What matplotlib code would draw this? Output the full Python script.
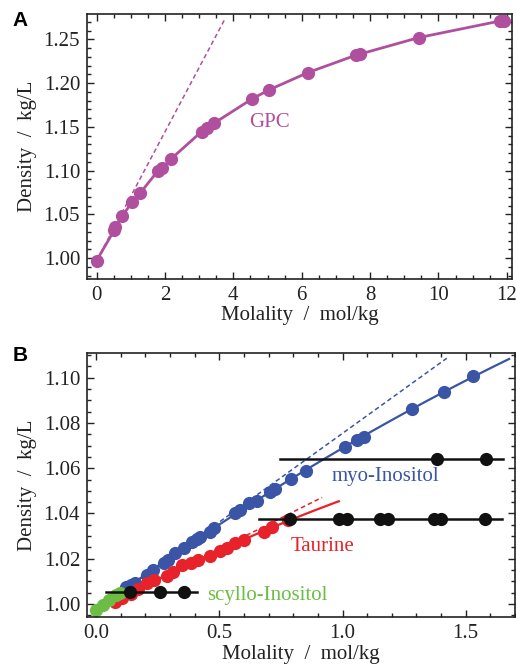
import numpy as np
import matplotlib
matplotlib.use("Agg")
import matplotlib.pyplot as plt
from matplotlib.ticker import MultipleLocator

# ---------------- Data ----------------
# Panel A: GPC
gpc_m = [0.0, 0.52, 0.55, 0.75, 1.04, 1.27, 1.80, 1.92, 2.17, 3.07, 3.22, 3.43,
         4.55, 5.03, 6.18, 7.59, 7.69, 9.42, 11.80, 11.92]
gpc_d = [0.997, 1.032, 1.035, 1.048, 1.064, 1.074, 1.100, 1.103, 1.113, 1.1445,
         1.149, 1.154, 1.182, 1.192, 1.212, 1.232, 1.233, 1.252, 1.271, 1.271]
gpc_slope_m = [0.0, 3.75]
gpc_slope_d = [0.997, 1.273]

# Panel B: myo-Inositol
myo_m = [0.12, 0.14, 0.159, 0.206, 0.23, 0.274, 0.29, 0.321, 0.355, 0.389, 0.41,
         0.423, 0.463, 0.48, 0.565, 0.582, 0.619, 0.653, 0.707, 0.724, 0.791,
         0.85, 1.012, 1.06, 1.087, 1.283, 1.412, 1.531]
myo_d = [1.0075, 1.0085, 1.0094, 1.0128, 1.015, 1.018, 1.0195, 1.0224, 1.0246,
         1.0275, 1.0285, 1.0297, 1.032, 1.0334, 1.0404, 1.0416, 1.0445, 1.0455,
         1.0496, 1.0506, 1.0551, 1.0589, 1.0695, 1.0725, 1.074, 1.086, 1.0938,
         1.1008]
myo_fit_range = [0.10, 1.676]
myo_slope_m = [0.0, 1.423]
myo_slope_d = [0.997, 1.1086]

# Taurine
tau_m = [0.077, 0.107, 0.14, 0.17, 0.206, 0.233, 0.287, 0.31, 0.35, 0.385,
         0.412, 0.461, 0.504, 0.531, 0.565, 0.599, 0.68, 0.714, 0.778]
tau_d = [1.001, 1.0025, 1.0045, 1.0068, 1.0091, 1.0106, 1.0124, 1.014, 1.0172,
         1.018, 1.0195, 1.0212, 1.0233, 1.0248, 1.0269, 1.0283, 1.032, 1.034,
         1.0371]
tau_fit_range = [0.07, 0.985]
tau_slope_m = [0.0, 0.917]
tau_slope_d = [0.997, 1.0471]

# scyllo-Inositol
scy_m = [0.0, 0.027, 0.054, 0.081, 0.095]
scy_d = [0.9973, 0.9996, 1.0018, 1.004, 1.005]

# Solubility limits (horizontal lines + points)
lim_scy_d = 1.0052
lim_scy_range = [0.041, 0.409]
lim_scy_m = [0.138, 0.26, 0.355]
lim_tau_d = 1.0376
lim_tau_range = [0.66, 1.649]
lim_tau_m = [0.788, 0.985, 1.019, 1.154, 1.184, 1.371, 1.398, 1.577]
lim_myo_d = 1.0642
lim_myo_range = [0.745, 1.652]
lim_myo_m = [1.385, 1.581]

# ---------------- Style ----------------
SERIF = ["Liberation Serif", "DejaVu Serif"]
plt.rcParams["font.family"] = SERIF
FS = 15

C_GPC = "#b04f9e"
C_MYO = "#3a55a6"
C_TAU = "#e8222a"
C_SCY = "#6cbd45"

fig = plt.figure(figsize=(5.16, 6.69), dpi=100)
axA = fig.add_axes([87/516, 1-279/669, (512-87)/516, (279-14)/669])
axB = fig.add_axes([87/516, 1-617.3/669, (515-87)/516, (617.3-353.3)/669])

def style(ax):
    ax.tick_params(which="both", direction="in", top=True, right=True,
                   labelsize=FS, width=1.0, colors="#222222", pad=5)
    ax.tick_params(which="major", length=5)
    ax.tick_params(which="minor", length=3)
    for s in ax.spines.values():
        s.set_linewidth(1.2)
        s.set_color("#222222")
    ax.set_xlabel("Molality  /  mol/kg", fontsize=FS, labelpad=1, color="#222222")
    ax.set_ylabel("Density  /  kg/L", fontsize=FS, labelpad=5, color="#222222")

ms = 9.5

# ---- Panel A ----
axA.plot(gpc_slope_m, gpc_slope_d, ls=(0, (3, 2)), color=C_GPC, lw=1.1)
axA.plot(gpc_m, gpc_d, "-", color=C_GPC, lw=2.0)
axA.plot(gpc_m, gpc_d, "o", color=C_GPC, ms=ms, mec="none")
axA.text(5.07, 1.155, "GPC", color=C_GPC, fontsize=FS, ha="center", va="center")
axA.set_xlim(-0.28, 12.15)
axA.set_ylim(0.976, 1.279)
axA.xaxis.set_major_locator(MultipleLocator(2))
axA.xaxis.set_minor_locator(MultipleLocator(0.5))
axA.yaxis.set_major_locator(MultipleLocator(0.05))
axA.yaxis.set_minor_locator(MultipleLocator(0.01))
axA.yaxis.set_major_formatter(matplotlib.ticker.FormatStrFormatter("%.2f"))
style(axA)

# ---- Panel B ----
# myo
axB.plot(myo_slope_m, myo_slope_d, ls=(0, (3, 2)), color=C_MYO, lw=1.1)
p = np.polyfit(myo_m, myo_d, 2)
xx = np.linspace(*myo_fit_range, 100)
axB.plot(xx, np.polyval(p, xx), "-", color=C_MYO, lw=1.6)
axB.plot(myo_m, myo_d, "o", color=C_MYO, ms=ms, mec="none")
# taurine
axB.plot(tau_slope_m, tau_slope_d, ls=(0, (3, 2)), color=C_TAU, lw=1.1)
p = np.polyfit(tau_m, tau_d, 2)
xx = np.linspace(*tau_fit_range, 100)
axB.plot(xx, np.polyval(p, xx), "-", color=C_TAU, lw=1.6)
axB.plot(tau_m, tau_d, "o", color=C_TAU, ms=ms, mec="none")
# scyllo
axB.plot(scy_m, scy_d, "-", color=C_SCY, lw=1.6)
axB.plot(scy_m, scy_d, "o", color=C_SCY, ms=ms, mec="none")
# limits
for rng, d, ms_ in [(lim_scy_range, lim_scy_d, lim_scy_m),
                    (lim_tau_range, lim_tau_d, lim_tau_m),
                    (lim_myo_range, lim_myo_d, lim_myo_m)]:
    axB.plot(rng, [d, d], "-", color="#111111", lw=1.8)
    axB.plot(ms_, [d]*len(ms_), "o", color="#111111", ms=ms, mec="none")

axB.text(1.175, 1.0563, "myo-Inositol", color=C_MYO, fontsize=FS, ha="center", va="center")
axB.text(0.917, 1.0253, "Taurine", color=C_TAU, fontsize=FS, ha="center", va="center")
axB.text(0.694, 1.0037, "scyllo-Inositol", color=C_SCY, fontsize=FS, ha="center", va="center")

axB.set_xlim(-0.037, 1.70)
axB.set_ylim(0.9941, 1.1108)
axB.xaxis.set_major_locator(MultipleLocator(0.5))
axB.xaxis.set_minor_locator(MultipleLocator(0.1))
axB.yaxis.set_major_locator(MultipleLocator(0.02))
axB.yaxis.set_minor_locator(MultipleLocator(0.005))
axB.xaxis.set_major_formatter(matplotlib.ticker.FormatStrFormatter("%.1f"))
axB.yaxis.set_major_formatter(matplotlib.ticker.FormatStrFormatter("%.2f"))
style(axB)

fig.text(20/516, 1-21/669, "A", fontsize=15, fontweight="bold",
         family=["Liberation Sans", "DejaVu Sans"], ha="center", va="center")
fig.text(20/516, 1-355/669, "B", fontsize=15, fontweight="bold",
         family=["Liberation Sans", "DejaVu Sans"], ha="center", va="center")

fig.savefig("out.png", dpi=100)
